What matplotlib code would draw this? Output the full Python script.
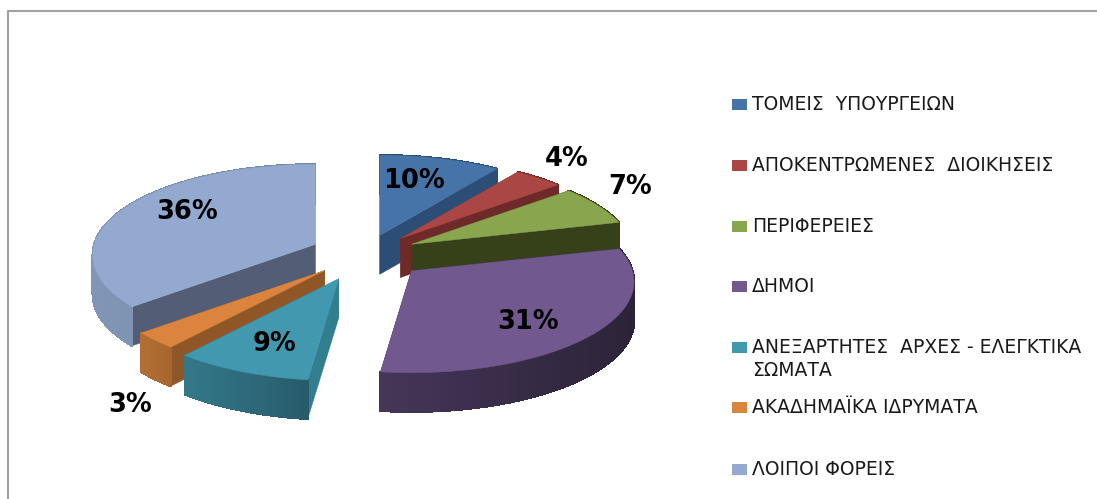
import numpy as np
import matplotlib
matplotlib.use("Agg")
import matplotlib.pyplot as plt
from matplotlib.colors import to_rgb
from matplotlib.patches import Polygon, Rectangle

# Datos
categorias = ["ΤΟΜΕΙΣ  ΥΠΟΥΡΓΕΙΩΝ", "ΑΠΟΚΕΝΤΡΩΜΕΝΕΣ  ΔΙΟΙΚΗΣΕΙΣ", "ΠΕΡΙΦΕΡΕΙΕΣ", "ΔΗΜΟΙ",
              "ΑΝΕΞΑΡΤΗΤΕΣ  ΑΡΧΕΣ - ΕΛΕΓΚΤΙΚΑ\nΣΩΜΑΤΑ", "ΑΚΑΔΗΜΑΪΚΑ ΙΔΡΥΜΑΤΑ", "ΛΟΙΠΟΙ ΦΟΡΕΙΣ"]
valores = [10, 4, 7, 31, 9, 3, 36]

# Colores
col_top = ["#4674A8", "#AA4643", "#89A54E", "#71588F", "#4198AF", "#DB843D", "#93A9CF"]
col_cut = ["#2C4D75", "#6E2A28", "#374119", "#2D2440", "#317E8F", "#8F5627", "#535E76"]
col_wall_a = ["#2C4D75", "#6E2A28", "#374119", "#453659", "#33788A", "#B26F33", "#8196B6"]
col_wall_b = ["#2C4D75", "#6E2A28", "#374119", "#2C2338", "#275B6B", "#A5652E", "#74879F"]

# Geometria del pastel
cx, cy = 365, 254
rx, ry = 221, 91
persp = 0.12
prof = 39
explode = [48, 52, 52, 62, 66, 57, 55]
orden = [0, 1, 2, 3, 6, 5, 4]  # de atras hacia delante
pos_etiq = [(414, 181), (567, 159), (630, 187), (528, 322), (274, 344), (130, 405), (187, 212)]
filas_leyenda = [104, 165, 226, 286, 347, 407, 469]


def proyectar(ang):
    # angulo en radianes, horario desde arriba
    u, v = np.sin(ang), np.cos(ang)
    esc = 1 - persp * v
    return rx * u * esc, -ry * v * esc


fig = plt.figure(figsize=(10.97, 4.99), dpi=100)
ax = fig.add_axes([0, 0, 1, 1])
ax.set_xlim(0, 1097)
ax.set_ylim(499, 0)
ax.axis("off")

# Marco (solo izquierda y arriba)
ax.plot([8, 8, 1097], [499, 11, 11], color="#A0A0A0", lw=1.5)

limites = np.concatenate([[0], np.cumsum(valores)]) / sum(valores) * 2 * np.pi

for i in orden:
    a0, a1 = limites[i], limites[i + 1]
    medio = (a0 + a1) / 2
    ox = cx + explode[i] * np.sin(medio)
    oy = cy - explode[i] * 0.41 * np.cos(medio)
    angs = np.linspace(a0, a1, 60)
    px, py = proyectar(angs)
    px, py = px + ox, py + oy

    # Caras de corte
    for x_b, y_b in [(px[0], py[0]), (px[-1], py[-1])]:
        ax.add_patch(Polygon([(ox, oy), (x_b, y_b), (x_b, y_b + prof), (ox, oy + prof)],
                             closed=True, fc=col_cut[i], ec=col_cut[i], lw=0.3))

    # Pared exterior con degradado
    c_a, c_b = np.array(to_rgb(col_wall_a[i])), np.array(to_rgb(col_wall_b[i]))
    x_min, x_max = px.min(), px.max()
    for k in range(len(angs) - 1):
        t = ((px[k] + px[k + 1]) / 2 - x_min) / max(x_max - x_min, 1)
        c = c_a + (c_b - c_a) * t
        ax.add_patch(Polygon([(px[k], py[k]), (px[k + 1], py[k + 1]),
                              (px[k + 1], py[k + 1] + prof), (px[k], py[k] + prof)],
                             closed=True, fc=c, ec=c, lw=1.0, antialiased=False))

    # Cara superior
    ax.add_patch(Polygon(np.column_stack([np.r_[ox, px], np.r_[oy, py]]),
                         closed=True, fc=col_top[i], ec=col_top[i], lw=0.3))

# Etiquetas
for v, (x, y) in zip(valores, pos_etiq):
    ax.text(x, y, f"{v}%", fontsize=18.5, fontweight="bold", family="DejaVu Sans",
            ha="center", va="center", color="black")

# Leyenda
for cat, col, y in zip(categorias, col_top, filas_leyenda):
    ax.add_patch(Rectangle((732, y - 5.5), 15, 11, fc=col, ec="none"))
    ax.text(752, y - 9, cat, fontsize=13.5, family="DejaVu Sans", ha="left", va="top",
            color="#1A1A1A", linespacing=1.28)

fig.savefig("out.png", dpi=100)
